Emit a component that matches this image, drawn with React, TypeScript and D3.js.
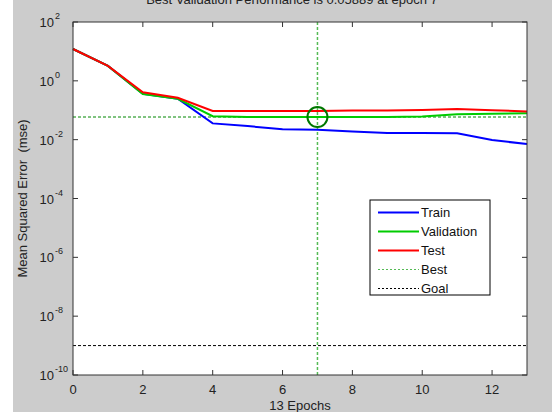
// Training performance plot (log-scale MSE per epoch), drawn with d3 scales + JSX
import React from 'react';
import * as d3 from 'd3';

// data
const epochs = [0, 1, 2, 3, 4, 5, 6, 7, 8, 9, 10, 11, 12, 13];
const train = [12.1, 3.2, 0.36, 0.245, 0.0358, 0.029, 0.0224, 0.0217, 0.0191, 0.0168, 0.0168, 0.0166, 0.0097, 0.0071];
const validation = [12.1, 3.2, 0.355, 0.246, 0.063, 0.0595, 0.0591, 0.05889, 0.059, 0.0591, 0.061, 0.0726, 0.076, 0.079];
const test = [12.1, 3.2, 0.406, 0.266, 0.094, 0.094, 0.094, 0.094, 0.098, 0.099, 0.1016, 0.11, 0.1, 0.091];
const bestEpoch = 7;
const bestValue = 0.05889;
const goal = 1e-9;
const xTicks = [0, 2, 4, 6, 8, 10, 12];
const yExponents = [2, 0, -2, -4, -6, -8, -10];
const titleText = 'Best Validation Performance is 0.05889 at epoch 7';
const xLabel = '13 Epochs';
const yLabel = 'Mean Squared Error\u00a0\u00a0(mse)';
const legendItems = [
  { name: 'Train', color: '#0000ff', dash: null, width: 2 },
  { name: 'Validation', color: '#00cc00', dash: null, width: 2 },
  { name: 'Test', color: '#ff0000', dash: null, width: 2 },
  { name: 'Best', color: '#55bb55', dash: '2,2', width: 1 },
  { name: 'Goal', color: '#000000', dash: '2,2', width: 1 },
];

const W = 552;
const H = 412;
const margin = { top: 22, right: 25, bottom: 37, left: 73 };
const font = 'Arial, "Liberation Sans", sans-serif';

export default function App() {
  const x = d3.scaleLinear().domain([0, 13]).range([margin.left, W - margin.right]);
  const y = d3.scaleLog().domain([1e-10, 1e2]).range([H - margin.bottom, margin.top]);
  const [x0, x1] = x.range();
  const [y0, y1] = y.range(); // y0 bottom, y1 top

  const line = d3.line<number>()
    .x((d, i) => x(epochs[i]))
    .y(d => y(d));

  const series = [
    { vals: train, color: '#0000ff' },
    { vals: validation, color: '#00cc00' },
    { vals: test, color: '#ff0000' },
  ];

  const lg = { x: 370, y: 200, w: 120, h: 95 };

  return (
    <>
      <style>{'body{margin:0}'}</style>
      <svg width={W} height={H} style={{ display: 'block' }} fontFamily={font}>
        <rect x={0} y={0} width={W} height={H} fill="#ffffff" />
        <rect x={13} y={0} width={W - 13} height={H} fill="#cccccc" />
        <rect x={x0} y={y1} width={x1 - x0} height={y0 - y1} fill="#ffffff" />

        {/* title, cut by the top edge like in the source image */}
        <text x={(x0 + x1) / 2 - 8} y={4} textAnchor="middle" fontSize={13} fill="#222">{titleText}</text>

        {/* goal + best lines */}
        <line x1={x0} x2={x1} y1={y(goal)} y2={y(goal)} stroke="#000" strokeWidth={1} strokeDasharray="3,2" />
        <line x1={x0} x2={x1} y1={y(bestValue)} y2={y(bestValue)} stroke="#008800" strokeWidth={1} strokeDasharray="3,2" />
        <line x1={x(bestEpoch)} x2={x(bestEpoch)} y1={y1} y2={y0} stroke="#55bb55" strokeWidth={1.5} strokeDasharray="3,2" />

        {series.map((s, i) => (
          <path key={i} d={line(s.vals) || ''} fill="none" stroke={s.color} strokeWidth={2} />
        ))}

        <circle cx={x(bestEpoch)} cy={y(bestValue)} r={10} fill="none" stroke="#007700" strokeWidth={2} />

        {/* box + ticks */}
        <rect x={x0} y={y1} width={x1 - x0} height={y0 - y1} fill="none" stroke="#333" strokeWidth={1} />
        {xTicks.map(t => (
          <g key={'x' + t}>
            <line x1={x(t)} x2={x(t)} y1={y0} y2={y0 - 5} stroke="#333" />
            <line x1={x(t)} x2={x(t)} y1={y1} y2={y1 + 5} stroke="#333" />
            <text x={x(t)} y={y0 + 19} textAnchor="middle" fontSize={13} fill="#222">{t}</text>
          </g>
        ))}
        {yExponents.map(e => {
          const yy = y(Math.pow(10, e));
          return (
            <g key={'y' + e}>
              <line x1={x0} x2={x0 + 5} y1={yy} y2={yy} stroke="#333" />
              <line x1={x1} x2={x1 - 5} y1={yy} y2={yy} stroke="#333" />
              <text x={54} y={yy + 5} textAnchor="end" fontSize={13} fill="#222">10</text>
              <text x={55} y={yy - 3} textAnchor="start" fontSize={9} fill="#222">{e}</text>
            </g>
          );
        })}

        <text x={(x0 + x1) / 2} y={410} textAnchor="middle" fontSize={13} fill="#222">{xLabel}</text>
        <text transform={`translate(27,${(y0 + y1) / 2}) rotate(-90)`} textAnchor="middle" fontSize={13} fill="#222">{yLabel}</text>

        {/* legend */}
        <rect x={lg.x} y={lg.y} width={lg.w} height={lg.h} fill="#fff" stroke="#000" strokeWidth={1} />
        {legendItems.map((it, i) => {
          const ly = lg.y + 12.5 + i * 19;
          return (
            <g key={it.name}>
              <line x1={lg.x + 8} x2={lg.x + 49} y1={ly} y2={ly} stroke={it.color} strokeWidth={it.width}
                strokeDasharray={it.dash || undefined} />
              <text x={lg.x + 51} y={ly + 4.5} fontSize={13} fill="#111">{it.name}</text>
            </g>
          );
        })}
      </svg>
    </>
  );
}
